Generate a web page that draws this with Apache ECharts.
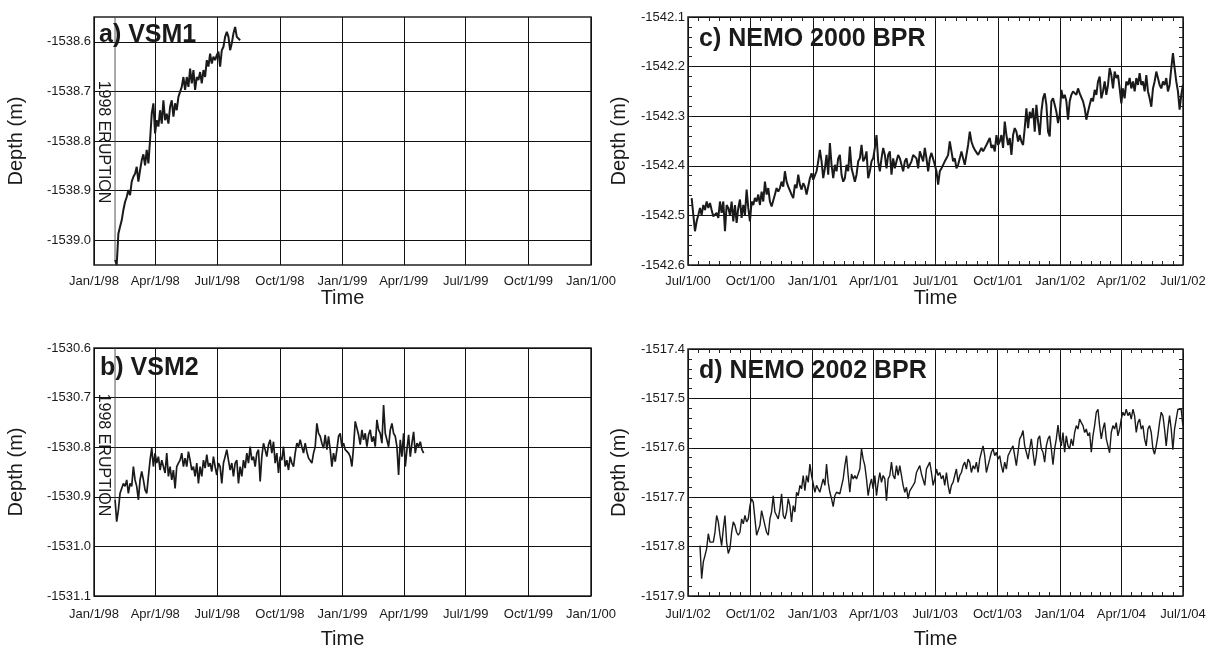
<!DOCTYPE html>
<html>
<head>
<meta charset="utf-8">
<title>Axial seamount depth records</title>
<script src="https://cdn.jsdelivr.net/npm/echarts@6/dist/echarts.min.js"></script>
<style>
  html, body { margin: 0; padding: 0; background: #fff; }
  #chart { width: 1209px; height: 647px; }
</style>
</head>
<body>
<div id="chart"></div>
<script>
const DAY = 86400000;
const MONTHS = ['Jan', 'Feb', 'Mar', 'Apr', 'May', 'Jun', 'Jul', 'Aug', 'Sep', 'Oct', 'Nov', 'Dec'];
const FONT = '"Liberation Sans", Arial, Helvetica, sans-serif';
const INK = '#1a1a1a';

// tick labels
const xTicksVsm = ['Jan/1/98', 'Apr/1/98', 'Jul/1/98', 'Oct/1/98', 'Jan/1/99', 'Apr/1/99', 'Jul/1/99', 'Oct/1/99', 'Jan/1/00'];
const xTicksNemo2000 = ['Jul/1/00', 'Oct/1/00', 'Jan/1/01', 'Apr/1/01', 'Jul/1/01', 'Oct/1/01', 'Jan/1/02', 'Apr/1/02', 'Jul/1/02'];
const xTicksNemo2002 = ['Jul/1/02', 'Oct/1/02', 'Jan/1/03', 'Apr/1/03', 'Jul/1/03', 'Oct/1/03', 'Jan/1/04', 'Apr/1/04', 'Jul/1/04'];
const yTicksVsm1 = [-1539.0, -1538.9, -1538.8, -1538.7, -1538.6];
const yTicksVsm2 = [-1531.1, -1531.0, -1530.9, -1530.8, -1530.7, -1530.6];
const yTicksNemo2000 = [-1542.6, -1542.5, -1542.4, -1542.3, -1542.2, -1542.1];
const yTicksNemo2002 = [-1517.9, -1517.8, -1517.7, -1517.6, -1517.5, -1517.4];

// first sample (days after the first x tick) and sample step (days)
const vsm1StartDay = 30.9, vsm1StepDays = 2.45;
const vsm2StartDay = 30.9, vsm2StepDays = 2.45;
const nemo2000StartDay = 5.4, nemo2000StepDays = 2.456;
const nemo2002StartDay = 17.7, nemo2002StepDays = 2.459;

// depths (m)
const vsm1Depth = [
  -1539.040, -1539.050, -1538.987, -1538.973, -1538.960, -1538.939, -1538.923, -1538.913, -1538.899, -1538.909,
  -1538.882, -1538.872, -1538.866, -1538.852, -1538.882, -1538.859, -1538.839, -1538.827, -1538.849, -1538.818,
  -1538.845, -1538.798, -1538.745, -1538.724, -1538.785, -1538.758, -1538.771, -1538.738, -1538.765, -1538.718,
  -1538.758, -1538.745, -1538.765, -1538.731, -1538.718, -1538.751, -1538.724, -1538.738, -1538.711, -1538.711,
  -1538.691, -1538.671, -1538.697, -1538.671, -1538.691, -1538.654, -1538.684, -1538.657, -1538.697, -1538.671,
  -1538.677, -1538.661, -1538.684, -1538.657, -1538.671, -1538.637, -1538.650, -1538.624, -1538.644, -1538.630,
  -1538.637, -1538.627, -1538.620, -1538.650, -1538.617, -1538.610, -1538.590, -1538.580, -1538.590, -1538.617,
  -1538.603, -1538.583, -1538.570, -1538.590, -1538.590, -1538.597
];
const vsm2Depth = [
  -1530.906, -1530.950, -1530.927, -1530.893, -1530.889, -1530.873, -1530.879, -1530.866, -1530.893, -1530.873,
  -1530.879, -1530.839, -1530.866, -1530.879, -1530.906, -1530.866, -1530.849, -1530.866, -1530.886, -1530.893,
  -1530.859, -1530.826, -1530.802, -1530.839, -1530.812, -1530.832, -1530.819, -1530.846, -1530.826, -1530.839,
  -1530.852, -1530.812, -1530.859, -1530.839, -1530.866, -1530.846, -1530.883, -1530.839, -1530.832, -1530.826,
  -1530.812, -1530.839, -1530.822, -1530.839, -1530.809, -1530.826, -1530.846, -1530.839, -1530.859, -1530.832,
  -1530.873, -1530.839, -1530.859, -1530.826, -1530.842, -1530.815, -1530.839, -1530.832, -1530.849, -1530.819,
  -1530.839, -1530.856, -1530.832, -1530.839, -1530.873, -1530.832, -1530.819, -1530.805, -1530.826, -1530.846,
  -1530.832, -1530.859, -1530.832, -1530.826, -1530.873, -1530.839, -1530.859, -1530.826, -1530.842, -1530.812,
  -1530.832, -1530.799, -1530.826, -1530.819, -1530.839, -1530.812, -1530.805, -1530.869, -1530.819, -1530.792,
  -1530.805, -1530.819, -1530.795, -1530.785, -1530.812, -1530.789, -1530.832, -1530.812, -1530.852, -1530.819,
  -1530.826, -1530.799, -1530.839, -1530.826, -1530.846, -1530.819, -1530.832, -1530.839, -1530.812, -1530.792,
  -1530.799,
  -1530.785, -1530.799, -1530.812, -1530.792, -1530.809, -1530.822, -1530.826, -1530.832, -1530.812, -1530.799,
  -1530.752, -1530.772, -1530.778, -1530.792, -1530.802, -1530.775, -1530.805, -1530.778, -1530.805, -1530.839,
  -1530.812, -1530.829, -1530.805, -1530.778, -1530.772, -1530.799, -1530.792, -1530.805, -1530.802, -1530.812,
  -1530.819, -1530.839, -1530.799, -1530.748, -1530.752, -1530.775, -1530.795, -1530.765, -1530.785, -1530.772,
  -1530.799, -1530.775, -1530.765, -1530.789, -1530.778, -1530.799, -1530.745, -1530.765, -1530.772, -1530.792,
  -1530.715, -1530.772, -1530.775, -1530.799, -1530.765, -1530.752, -1530.772, -1530.778, -1530.799, -1530.856,
  -1530.785, -1530.819, -1530.772, -1530.839, -1530.805, -1530.775, -1530.819, -1530.792, -1530.769, -1530.812,
  -1530.792, -1530.799, -1530.789, -1530.805, -1530.812
];
const nemo2000Depth = [
  -1542.465, -1542.499, -1542.532, -1542.512, -1542.499, -1542.485, -1542.499, -1542.479, -1542.489, -1542.472,
  -1542.485, -1542.475, -1542.489, -1542.502, -1542.505, -1542.495, -1542.505, -1542.472, -1542.495, -1542.472,
  -1542.532, -1542.479, -1542.485, -1542.499, -1542.472, -1542.512, -1542.479, -1542.515, -1542.485, -1542.468,
  -1542.505, -1542.479, -1542.499, -1542.448, -1542.485, -1542.512, -1542.472, -1542.479, -1542.465, -1542.472,
  -1542.458, -1542.479, -1542.452, -1542.472, -1542.432, -1542.458, -1542.445, -1542.472, -1542.482, -1542.479,
  -1542.458, -1542.445, -1542.452, -1542.445, -1542.432, -1542.442, -1542.411, -1542.432, -1542.442, -1542.445,
  -1542.458, -1542.465, -1542.438, -1542.445, -1542.418, -1542.438, -1542.448, -1542.435, -1542.442, -1542.458,
  -1542.462, -1542.425, -1542.415, -1542.428, -1542.425, -1542.411, -1542.391, -1542.368, -1542.391, -1542.425,
  -1542.405, -1542.378, -1542.418, -1542.354, -1542.398, -1542.425, -1542.398, -1542.411, -1542.385, -1542.378,
  -1542.418, -1542.432, -1542.425, -1542.398, -1542.411, -1542.361, -1542.405, -1542.418, -1542.432, -1542.418,
  -1542.391, -1542.385, -1542.358, -1542.391, -1542.385, -1542.371, -1542.425, -1542.411, -1542.391, -1542.385,
  -1542.364, -1542.338, -1542.391, -1542.411, -1542.385, -1542.364, -1542.378, -1542.405, -1542.378, -1542.371,
  -1542.418, -1542.385, -1542.405, -1542.391, -1542.378, -1542.385, -1542.398, -1542.411, -1542.391, -1542.385,
  -1542.405, -1542.408, -1542.391, -1542.378, -1542.374, -1542.385, -1542.405,
  -1542.371, -1542.381, -1542.391, -1542.364, -1542.385, -1542.411, -1542.385, -1542.374, -1542.378, -1542.398,
  -1542.411, -1542.438, -1542.411, -1542.405, -1542.398, -1542.391, -1542.385, -1542.378, -1542.351, -1542.371,
  -1542.391, -1542.385, -1542.405, -1542.398, -1542.385, -1542.371, -1542.385, -1542.398, -1542.378, -1542.358,
  -1542.331, -1542.351, -1542.361, -1542.368, -1542.371, -1542.378, -1542.371, -1542.364, -1542.371, -1542.368,
  -1542.358, -1542.351, -1542.344, -1542.364, -1542.358, -1542.371, -1542.338, -1542.358, -1542.351, -1542.338,
  -1542.364, -1542.311, -1542.338, -1542.358, -1542.344, -1542.378, -1542.338, -1542.324, -1542.331, -1542.351,
  -1542.338, -1542.351, -1542.358, -1542.324, -1542.284, -1542.324, -1542.291, -1542.304, -1542.284, -1542.331,
  -1542.277, -1542.311, -1542.338, -1542.291, -1542.264, -1542.254, -1542.277, -1542.331, -1542.341, -1542.270,
  -1542.264, -1542.277, -1542.291, -1542.314, -1542.297, -1542.247, -1542.264, -1542.257, -1542.270, -1542.307,
  -1542.270, -1542.257, -1542.250, -1542.247, -1542.257, -1542.244, -1542.254, -1542.250, -1542.270, -1542.284,
  -1542.307, -1542.291, -1542.277, -1542.264, -1542.270, -1542.247, -1542.257, -1542.230, -1542.220, -1542.264,
  -1542.250, -1542.230, -1542.257, -1542.237, -1542.203, -1542.217, -1542.244, -1542.210, -1542.223, -1542.217,
  -1542.244, -1542.274, -1542.244, -1542.264, -1542.230, -1542.237, -1542.223, -1542.244, -1542.230, -1542.250,
  -1542.223, -1542.237, -1542.213, -1542.237, -1542.230, -1542.250, -1542.217, -1542.250, -1542.264, -1542.281,
  -1542.244, -1542.230, -1542.210, -1542.223, -1542.237, -1542.244, -1542.230, -1542.237, -1542.223, -1542.250,
  -1542.237, -1542.203, -1542.173, -1542.203, -1542.230, -1542.250, -1542.287, -1542.257, -1542.237
];
const nemo2002Depth = [
  -1517.798, -1517.865, -1517.831, -1517.818, -1517.804, -1517.774, -1517.791, -1517.787, -1517.791, -1517.771,
  -1517.737, -1517.750, -1517.777, -1517.798, -1517.764, -1517.737, -1517.791, -1517.814, -1517.804, -1517.771,
  -1517.750, -1517.757, -1517.771, -1517.777, -1517.771, -1517.744, -1517.754, -1517.737, -1517.750, -1517.744,
  -1517.717, -1517.703, -1517.710, -1517.744, -1517.777, -1517.777, -1517.757, -1517.727, -1517.727, -1517.757,
  -1517.771, -1517.777, -1517.744, -1517.730, -1517.697, -1517.730, -1517.737, -1517.744, -1517.724, -1517.693,
  -1517.737, -1517.744, -1517.730, -1517.703, -1517.717, -1517.750, -1517.717, -1517.730, -1517.690, -1517.697,
  -1517.676, -1517.683, -1517.656, -1517.687, -1517.656, -1517.670, -1517.633, -1517.656, -1517.653, -1517.690,
  -1517.676, -1517.680, -1517.690, -1517.676, -1517.663, -1517.676, -1517.633, -1517.670, -1517.690, -1517.703,
  -1517.719, -1517.697, -1517.690, -1517.690, -1517.693, -1517.693, -1517.663, -1517.636, -1517.616, -1517.656,
  -1517.690, -1517.653, -1517.663, -1517.656, -1517.663, -1517.666, -1517.643, -1517.602, -1517.623, -1517.636,
  -1517.663, -1517.697, -1517.676, -1517.663, -1517.683, -1517.656, -1517.697, -1517.670, -1517.650, -1517.670,
  -1517.656, -1517.663, -1517.707, -1517.663, -1517.656, -1517.629, -1517.656, -1517.663, -1517.636, -1517.656,
  -1517.636, -1517.633, -1517.676, -1517.690, -1517.680, -1517.703, -1517.687, -1517.690, -1517.676, -1517.670,
  -1517.650, -1517.643,
  -1517.636, -1517.653, -1517.656, -1517.676, -1517.643, -1517.636, -1517.629, -1517.650, -1517.676, -1517.663,
  -1517.643, -1517.656, -1517.650, -1517.663, -1517.656, -1517.676, -1517.650, -1517.676, -1517.693, -1517.676,
  -1517.670, -1517.656, -1517.643, -1517.670, -1517.656, -1517.650, -1517.636, -1517.629, -1517.643, -1517.623,
  -1517.629, -1517.650, -1517.636, -1517.643, -1517.629, -1517.650, -1517.623, -1517.609, -1517.596, -1517.616,
  -1517.650, -1517.636, -1517.623, -1517.609, -1517.602, -1517.616, -1517.609, -1517.623, -1517.616, -1517.636,
  -1517.650, -1517.629, -1517.643, -1517.616, -1517.616, -1517.602, -1517.596, -1517.616, -1517.636, -1517.609,
  -1517.582, -1517.576, -1517.565, -1517.596, -1517.609, -1517.623, -1517.602, -1517.582, -1517.609, -1517.636,
  -1517.616, -1517.582, -1517.576, -1517.602, -1517.609, -1517.629, -1517.596, -1517.582, -1517.576, -1517.602,
  -1517.634, -1517.602, -1517.582, -1517.554, -1517.582, -1517.596, -1517.569, -1517.609, -1517.576, -1517.596,
  -1517.602, -1517.582, -1517.596, -1517.569, -1517.555, -1517.562, -1517.542, -1517.549, -1517.555, -1517.569,
  -1517.562, -1517.576, -1517.569, -1517.609, -1517.576, -1517.555, -1517.528, -1517.522, -1517.555, -1517.582,
  -1517.562, -1517.549, -1517.582, -1517.596, -1517.610, -1517.569, -1517.555, -1517.562, -1517.549, -1517.576,
  -1517.562, -1517.542, -1517.528, -1517.535, -1517.522, -1517.535, -1517.528, -1517.542, -1517.522, -1517.535,
  -1517.569, -1517.549, -1517.542, -1517.562, -1517.555, -1517.582, -1517.596, -1517.562, -1517.555, -1517.569,
  -1517.602, -1517.613, -1517.596, -1517.576, -1517.549, -1517.528, -1517.535, -1517.562, -1517.596, -1517.562,
  -1517.535, -1517.562, -1517.604, -1517.562, -1517.542, -1517.522, -1517.518, -1517.522, -1517.555
];

function labelToMs(s) {
  const parts = s.split('/');
  const yy = +parts[2];
  return Date.UTC(yy < 50 ? 2000 + yy : 1900 + yy, MONTHS.indexOf(parts[0]), +parts[1]);
}
function msToLabel(v) {
  const d = new Date(v);
  return MONTHS[d.getUTCMonth()] + '/' + d.getUTCDate() + '/' + String(d.getUTCFullYear() % 100).padStart(2, '0');
}
// 1st and 16th of every month, for the small ticks of the NEMO panels
function halfMonths(a, b) {
  const out = [];
  const d = new Date(a);
  let y = d.getUTCFullYear(), m = d.getUTCMonth();
  while (Date.UTC(y, m, 1) <= b) {
    out.push(Date.UTC(y, m, 1));
    if (Date.UTC(y, m, 16) < b) out.push(Date.UTC(y, m, 16));
    m++; if (m > 11) { m = 0; y++; }
  }
  return out;
}
function steps(a, b, s) {
  const out = [];
  for (let v = a; v <= b + 1e-9; v += s) out.push(Math.round(v * 1000) / 1000);
  return out;
}

const grids = [], xAxes = [], yAxes = [], series = [], titles = [], graphics = [];

function addPanel(p) {
  const g = grids.length;
  grids.push({ left: p.left, top: p.top, width: p.width, height: p.height, show: true,
    outerBoundsMode: 'none', containLabel: false,
    borderColor: '#222', borderWidth: 1.5, backgroundColor: 'transparent' });
  const xVals = p.xTicks.map(labelToMs);
  const xMin = xVals[0], xMax = xVals[xVals.length - 1];

  const xi = xAxes.length;
  xAxes.push({
    gridIndex: g, type: 'value', min: xMin, max: xMax, position: 'bottom',
    name: 'Time', nameLocation: 'middle', nameGap: p.nameGapX,
    nameTextStyle: { fontSize: 20, color: INK, fontFamily: FONT },
    axisLine: { show: false },
    axisTick: { show: true, inside: true, length: 8, customValues: xVals, lineStyle: { color: '#111' } },
    axisLabel: { customValues: xVals, formatter: msToLabel, fontSize: 13, color: INK, fontFamily: FONT,
      margin: p.labelMarginX, showMinLabel: true, showMaxLabel: true },
    splitLine: { show: true, lineStyle: { color: '#111', width: 1 } }
  });
  const yi = yAxes.length;
  yAxes.push({
    gridIndex: g, type: 'value', min: p.yMin, max: p.yMax, position: 'left',
    name: 'Depth (m)', nameLocation: 'middle', nameGap: p.nameGapY,
    nameTextStyle: { fontSize: 20, color: INK, fontFamily: FONT },
    axisLine: { show: false },
    axisTick: { show: true, inside: true, length: 8, customValues: p.yTicks, lineStyle: { color: '#111' } },
    axisLabel: { customValues: p.yTicks, formatter: v => v.toFixed(1), fontSize: 13, color: INK,
      fontFamily: FONT, margin: 3, showMinLabel: true, showMaxLabel: true },
    splitLine: { show: true, lineStyle: { color: '#111', width: 1 } }
  });
  yAxes.push({
    gridIndex: g, type: 'value', min: p.yMin, max: p.yMax, position: 'right',
    axisLine: { show: false }, axisLabel: { show: false }, splitLine: { show: false },
    axisTick: { show: true, inside: true, length: 8, customValues: p.yTicks, lineStyle: { color: '#111' } }
  });
  if (p.minor) {
    const xm = halfMonths(xMin, xMax);
    ['bottom', 'top'].forEach(pos => xAxes.push({
      gridIndex: g, type: 'value', min: xMin, max: xMax, position: pos,
      axisLine: { show: false }, axisLabel: { show: false }, splitLine: { show: false },
      axisTick: { show: true, inside: true, length: 4, customValues: xm, lineStyle: { color: '#222' } }
    }));
    const ym = steps(p.yMin, p.yMax, 0.02);
    ['left', 'right'].forEach(pos => yAxes.push({
      gridIndex: g, type: 'value', min: p.yMin, max: p.yMax, position: pos,
      axisLine: { show: false }, axisLabel: { show: false }, splitLine: { show: false },
      axisTick: { show: true, inside: true, length: 4, customValues: ym, lineStyle: { color: '#222' } }
    }));
  }

  const t0 = xMin + p.startDay * DAY;
  if (p.eruption) {
    // the record drops in from above the frame at the eruption
    series.push({
      type: 'line', xAxisIndex: xi, yAxisIndex: yi, showSymbol: false, silent: true, animation: false,
      lineStyle: { color: '#444', width: 0.9 },
      data: [[t0, p.yMax], [t0, p.depth[0]]]
    });
    graphics.push({ type: 'text', x: p.left + 9.5, y: p.eruptionY, rotation: -Math.PI / 2, silent: true,
      style: { text: '1998 ERUPTION', fontSize: 16, fontFamily: FONT, fill: INK, align: 'center', verticalAlign: 'middle' } });
  }
  series.push({
    type: 'line', xAxisIndex: xi, yAxisIndex: yi, showSymbol: false, silent: true, animation: false,
    lineStyle: { color: INK, width: p.lineWidth },
    data: p.depth.map((v, i) => [t0 + i * p.stepDays * DAY, v])
  });
  titles.push({ text: p.title, left: p.titlePos[0], top: p.titlePos[1], padding: 0,
    textStyle: { fontSize: 25, fontWeight: 'bold', color: INK, fontFamily: FONT } });
}

addPanel({ title: 'a) VSM1', titlePos: [99, 23], left: 94, top: 17, width: 497, height: 248,
  xTicks: xTicksVsm, yTicks: yTicksVsm1, yMin: -1539.05, yMax: -1538.55,
  nameGapX: 23, nameGapY: 68, labelMarginX: 10, minor: false, eruption: true, eruptionY: 142,
  startDay: vsm1StartDay, stepDays: vsm1StepDays, depth: vsm1Depth, lineWidth: 2 });
addPanel({ title: 'b) VSM2', titlePos: [100, 356], left: 94, top: 348, width: 497, height: 248,
  xTicks: xTicksVsm, yTicks: yTicksVsm2, yMin: -1531.1, yMax: -1530.6,
  nameGapX: 33, nameGapY: 68, labelMarginX: 12, minor: false, eruption: true, eruptionY: 455,
  startDay: vsm2StartDay, stepDays: vsm2StepDays, depth: vsm2Depth, lineWidth: 1.7 });
addPanel({ title: 'c) NEMO 2000 BPR', titlePos: [699, 27], left: 688, top: 17, width: 495, height: 248,
  xTicks: xTicksNemo2000, yTicks: yTicksNemo2000, yMin: -1542.6, yMax: -1542.1,
  nameGapX: 23, nameGapY: 59, labelMarginX: 10, minor: true,
  startDay: nemo2000StartDay, stepDays: nemo2000StepDays, depth: nemo2000Depth, lineWidth: 2 });
addPanel({ title: 'd) NEMO 2002 BPR', titlePos: [699, 359], left: 688, top: 349, width: 495, height: 247,
  xTicks: xTicksNemo2002, yTicks: yTicksNemo2002, yMin: -1517.9, yMax: -1517.4,
  nameGapX: 33, nameGapY: 59, labelMarginX: 12, minor: true,
  startDay: nemo2002StartDay, stepDays: nemo2002StepDays, depth: nemo2002Depth, lineWidth: 1.4 });

const chart = echarts.init(document.getElementById('chart'), null, { renderer: 'canvas' });
chart.setOption({
  backgroundColor: '#fff',
  animation: false,
  title: titles,
  grid: grids,
  xAxis: xAxes,
  yAxis: yAxes,
  series: series,
  graphic: graphics
});
</script>
</body>
</html>
